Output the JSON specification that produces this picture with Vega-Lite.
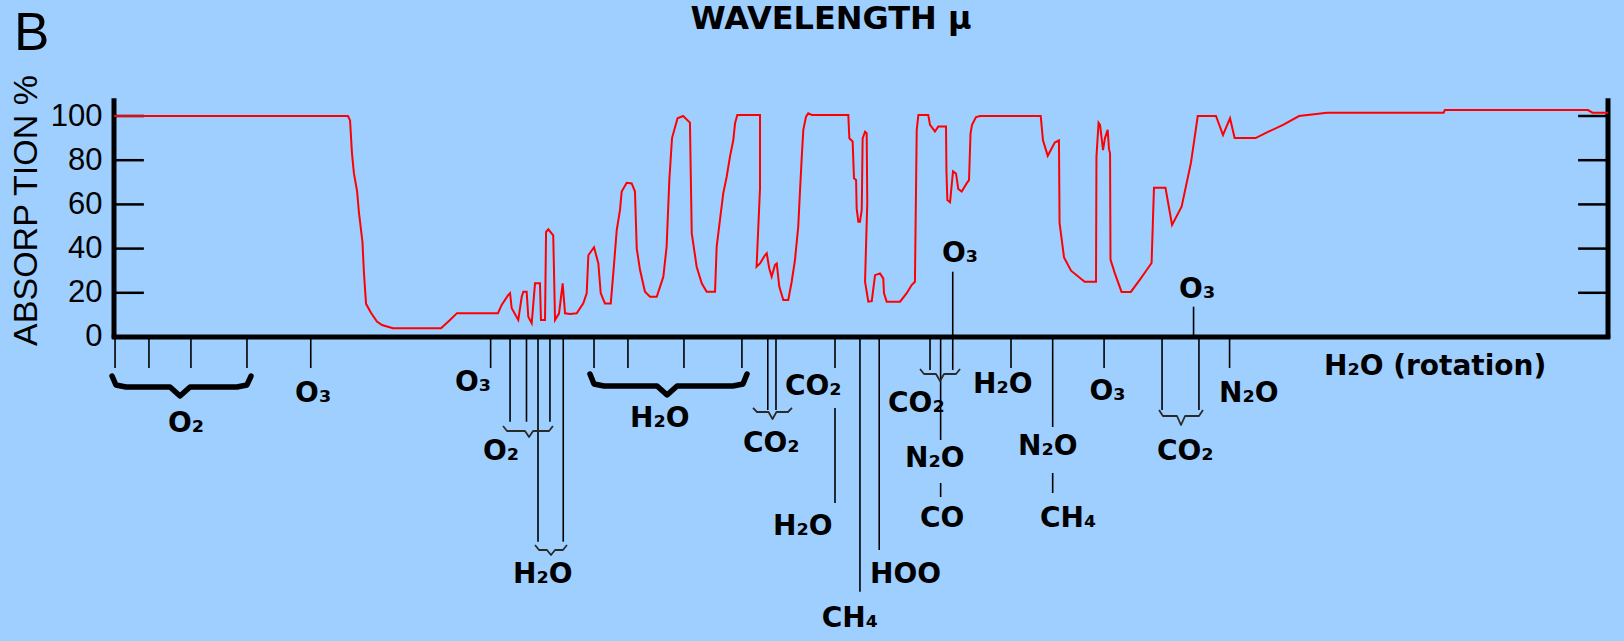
{
  "$schema": "https://vega.github.io/schema/vega-lite/v6.json",
  "width": 1494,
  "height": 641,
  "autosize": {"type": "none"},
  "padding": {"left": 114, "right": 16, "top": 0, "bottom": 0},
  "background": "#9fcfff",
  "config": {"view": {"stroke": null}},
  "datasets": {
    "spectrum": [
      {"i":1,"pos":0,"absorption":100},{"i":2,"pos":15.66,"absorption":100},{"i":3,"pos":15.8,"absorption":98},{"i":4,"pos":15.93,"absorption":83},
      {"i":5,"pos":16.06,"absorption":74},{"i":6,"pos":16.27,"absorption":66},{"i":7,"pos":16.4,"absorption":56},{"i":8,"pos":16.63,"absorption":43},
      {"i":9,"pos":16.73,"absorption":29},{"i":10,"pos":16.87,"absorption":15},{"i":11,"pos":17.2,"absorption":11},{"i":12,"pos":17.6,"absorption":7},
      {"i":13,"pos":17.94,"absorption":5.4},{"i":14,"pos":18.67,"absorption":4},{"i":15,"pos":21.89,"absorption":4},{"i":16,"pos":22.49,"absorption":7.7},
      {"i":17,"pos":22.96,"absorption":10.8},{"i":18,"pos":25.7,"absorption":10.8},{"i":19,"pos":25.95,"absorption":14.5},{"i":20,"pos":26.39,"absorption":19},
      {"i":21,"pos":26.51,"absorption":19.8},{"i":22,"pos":26.62,"absorption":13},{"i":23,"pos":27.06,"absorption":7.7},{"i":24,"pos":27.29,"absorption":18.2},
      {"i":25,"pos":27.4,"absorption":20.5},{"i":26,"pos":27.62,"absorption":20.5},{"i":27,"pos":27.73,"absorption":9.2},{"i":28,"pos":27.96,"absorption":6.2},
      {"i":29,"pos":28.18,"absorption":24.3},{"i":30,"pos":28.51,"absorption":24.3},{"i":31,"pos":28.58,"absorption":7.7},{"i":32,"pos":28.85,"absorption":7.7},
      {"i":33,"pos":28.92,"absorption":47.6},{"i":34,"pos":29.07,"absorption":48.7},{"i":35,"pos":29.4,"absorption":46},{"i":36,"pos":29.52,"absorption":7.7},
      {"i":37,"pos":29.79,"absorption":10.7},{"i":38,"pos":30.03,"absorption":24.3},{"i":39,"pos":30.19,"absorption":10.7},{"i":40,"pos":30.52,"absorption":10.4},
      {"i":41,"pos":30.97,"absorption":10.7},{"i":42,"pos":31.41,"absorption":15.2},{"i":43,"pos":31.64,"absorption":19.8},{"i":44,"pos":31.75,"absorption":37},
      {"i":45,"pos":32.13,"absorption":40.6},{"i":46,"pos":32.42,"absorption":33.3},{"i":47,"pos":32.58,"absorption":19.8},{"i":48,"pos":32.86,"absorption":15.2},
      {"i":49,"pos":33.25,"absorption":15.2},{"i":50,"pos":33.42,"absorption":28.8},{"i":51,"pos":33.65,"absorption":48.4},{"i":52,"pos":33.87,"absorption":57.5},
      {"i":53,"pos":33.98,"absorption":65.8},{"i":54,"pos":34.32,"absorption":69.8},{"i":55,"pos":34.65,"absorption":69.5},{"i":56,"pos":34.87,"absorption":65.8},
      {"i":57,"pos":34.99,"absorption":40},{"i":58,"pos":35.21,"absorption":30.3},{"i":59,"pos":35.54,"absorption":20.5},{"i":60,"pos":35.88,"absorption":18.2},
      {"i":61,"pos":36.33,"absorption":18.2},{"i":62,"pos":36.77,"absorption":27.3},{"i":63,"pos":36.99,"absorption":40.9},{"i":64,"pos":37.17,"absorption":71},
      {"i":65,"pos":37.35,"absorption":90},{"i":66,"pos":37.72,"absorption":99},{"i":67,"pos":38.09,"absorption":100},{"i":68,"pos":38.55,"absorption":97},
      {"i":69,"pos":38.67,"absorption":47},{"i":70,"pos":39.0,"absorption":31.8},{"i":71,"pos":39.34,"absorption":24.3},{"i":72,"pos":39.67,"absorption":20.5},
      {"i":73,"pos":40.23,"absorption":20.5},{"i":74,"pos":40.34,"absorption":40.9},{"i":75,"pos":40.56,"absorption":53},{"i":76,"pos":40.78,"absorption":65},
      {"i":77,"pos":41.01,"absorption":72.5},{"i":78,"pos":41.23,"absorption":81.6},{"i":79,"pos":41.45,"absorption":89},{"i":80,"pos":41.57,"absorption":96.7},
      {"i":81,"pos":41.72,"absorption":100.5},{"i":82,"pos":43.24,"absorption":100.5},{"i":83,"pos":43.24,"absorption":67.3},{"i":84,"pos":43.01,"absorption":31.8},
      {"i":85,"pos":43.24,"absorption":33.3},{"i":86,"pos":43.57,"absorption":37},{"i":87,"pos":43.69,"absorption":37.9},{"i":88,"pos":43.86,"absorption":31},
      {"i":89,"pos":44.02,"absorption":27.3},{"i":90,"pos":44.24,"absorption":32.6},{"i":91,"pos":44.36,"absorption":33.3},{"i":92,"pos":44.53,"absorption":22.8},
      {"i":93,"pos":44.8,"absorption":16.7},{"i":94,"pos":45.13,"absorption":16.7},{"i":95,"pos":45.36,"absorption":25},{"i":96,"pos":45.58,"absorption":34.8},
      {"i":97,"pos":45.8,"absorption":50},{"i":98,"pos":45.92,"absorption":66.5},{"i":99,"pos":46.03,"absorption":80.9},{"i":100,"pos":46.14,"absorption":93.7},
      {"i":101,"pos":46.32,"absorption":99.7},{"i":102,"pos":46.47,"absorption":101.2},{"i":103,"pos":46.7,"absorption":100.5},{"i":104,"pos":49.15,"absorption":100.5},
      {"i":105,"pos":49.22,"absorption":89.9},{"i":106,"pos":49.44,"absorption":88.5},{"i":107,"pos":49.53,"absorption":71.8},{"i":108,"pos":49.67,"absorption":71},
      {"i":109,"pos":49.71,"absorption":58.2},{"i":110,"pos":49.82,"absorption":52.2},{"i":111,"pos":49.93,"absorption":52.2},{"i":112,"pos":50.05,"absorption":57.5},
      {"i":113,"pos":50.11,"absorption":89.9},{"i":114,"pos":50.27,"absorption":92.9},{"i":115,"pos":50.38,"absorption":92.2},{"i":116,"pos":50.42,"absorption":60.5},
      {"i":117,"pos":50.27,"absorption":25},{"i":118,"pos":50.49,"absorption":16},{"i":119,"pos":50.72,"absorption":16.2},{"i":120,"pos":50.94,"absorption":28},
      {"i":121,"pos":51.27,"absorption":28.8},{"i":122,"pos":51.49,"absorption":26.5},{"i":123,"pos":51.54,"absorption":19.8},{"i":124,"pos":51.72,"absorption":16},
      {"i":125,"pos":52.61,"absorption":16},{"i":126,"pos":53.06,"absorption":19.8},{"i":127,"pos":53.39,"absorption":23.5},{"i":128,"pos":53.61,"absorption":25},
      {"i":129,"pos":53.73,"absorption":93.7},{"i":130,"pos":53.84,"absorption":100.5},{"i":131,"pos":54.5,"absorption":100.5},{"i":132,"pos":54.62,"absorption":96},
      {"i":133,"pos":54.95,"absorption":93},{"i":134,"pos":55.17,"absorption":95.2},{"i":135,"pos":55.69,"absorption":95.2},{"i":136,"pos":55.72,"absorption":75},
      {"i":137,"pos":55.78,"absorption":62},{"i":138,"pos":55.96,"absorption":61},{"i":139,"pos":56.16,"absorption":75},{"i":140,"pos":56.36,"absorption":74},
      {"i":141,"pos":56.51,"absorption":67},{"i":142,"pos":56.74,"absorption":65.8},{"i":143,"pos":57.07,"absorption":69.5},{"i":144,"pos":57.23,"absorption":71},
      {"i":145,"pos":57.33,"absorption":92},{"i":146,"pos":57.43,"absorption":96},{"i":147,"pos":57.7,"absorption":99.5},{"i":148,"pos":57.97,"absorption":100},
      {"i":149,"pos":62.03,"absorption":100},{"i":150,"pos":62.18,"absorption":89},{"i":151,"pos":62.5,"absorption":82},{"i":152,"pos":62.97,"absorption":88},
      {"i":153,"pos":63.25,"absorption":89},{"i":154,"pos":63.29,"absorption":51.6},{"i":155,"pos":63.59,"absorption":36},{"i":156,"pos":64.06,"absorption":30},
      {"i":157,"pos":64.97,"absorption":25},{"i":158,"pos":65.73,"absorption":25},{"i":159,"pos":65.76,"absorption":81.5},{"i":160,"pos":65.9,"absorption":97},
      {"i":161,"pos":66.0,"absorption":96},{"i":162,"pos":66.2,"absorption":84.6},{"i":163,"pos":66.33,"absorption":90},{"i":164,"pos":66.51,"absorption":93.7},
      {"i":165,"pos":66.6,"absorption":85},{"i":166,"pos":66.67,"absorption":83},{"i":167,"pos":66.7,"absorption":35},{"i":168,"pos":66.98,"absorption":29},
      {"i":169,"pos":67.44,"absorption":20.4},{"i":170,"pos":68.06,"absorption":20.4},{"i":171,"pos":68.67,"absorption":26},{"i":172,"pos":69.45,"absorption":33.5},
      {"i":173,"pos":69.61,"absorption":67.5},{"i":174,"pos":70.38,"absorption":67.5},{"i":175,"pos":70.82,"absorption":50.7},{"i":176,"pos":71.46,"absorption":59},
      {"i":177,"pos":72.09,"absorption":79},{"i":178,"pos":72.54,"absorption":100},{"i":179,"pos":73.76,"absorption":100},{"i":180,"pos":74.23,"absorption":91.4},
      {"i":181,"pos":74.7,"absorption":99},{"i":182,"pos":75.01,"absorption":90},{"i":183,"pos":76.41,"absorption":90},{"i":184,"pos":77.31,"absorption":93},
      {"i":185,"pos":78.25,"absorption":96},{"i":186,"pos":79.32,"absorption":100},{"i":187,"pos":81.19,"absorption":101.5},{"i":188,"pos":89.0,"absorption":101.5},
      {"i":189,"pos":89.08,"absorption":102.7},{"i":190,"pos":98.66,"absorption":102.7},{"i":191,"pos":98.96,"absorption":101.5},{"i":192,"pos":100,"absorption":101.5}
    ],
    "frame": [
      {"pos":0,"pos2":0,"level":-0.6,"level2":108},
      {"pos":100,"pos2":100,"level":-0.6,"level2":108},
      {"pos":-0.15,"pos2":100.15,"level":0,"level2":0}
    ],
    "yticks": [
      {"pos":0,"pos2":2,"level":20,"level2":20},{"pos":0,"pos2":2,"level":40,"level2":40},{"pos":0,"pos2":2,"level":60,"level2":60},
      {"pos":0,"pos2":2,"level":80,"level2":80},{"pos":0,"pos2":2,"level":100,"level2":100},
      {"pos":98,"pos2":100,"level":20,"level2":20},{"pos":98,"pos2":100,"level":40,"level2":40},{"pos":98,"pos2":100,"level":60,"level2":60},
      {"pos":98,"pos2":100,"level":80,"level2":80},{"pos":98,"pos2":100,"level":100,"level2":100}
    ],
    "markers": [
      {"pos":0.07,"level":0,"level2":-14.03},{"pos":2.34,"level":0,"level2":-14.03},{"pos":5.15,"level":0,"level2":-14.03},{"pos":8.9,"level":0,"level2":-14.03},
      {"pos":13.17,"level":0,"level2":-14.03},{"pos":25.21,"level":0,"level2":-14.03},
      {"pos":26.51,"level":0,"level2":-38.33},{"pos":27.61,"level":0,"level2":-38.33},{"pos":28.38,"level":0,"level2":-92.62},
      {"pos":29.18,"level":0,"level2":-38.33},{"pos":30.07,"level":0,"level2":-92.62},
      {"pos":32.13,"level":0,"level2":-14.03},{"pos":34.4,"level":0,"level2":-14.03},{"pos":38.15,"level":0,"level2":-14.03},{"pos":42.03,"level":0,"level2":-14.03},
      {"pos":43.76,"level":0,"level2":-33.03},{"pos":44.31,"level":0,"level2":-33.03},
      {"pos":48.26,"level":0,"level2":-14.03},{"pos":48.26,"level":-32.13,"level2":-75.11},
      {"pos":49.93,"level":0,"level2":-115.25},{"pos":51.22,"level":0,"level2":-96.38},
      {"pos":54.62,"level":0,"level2":-14.93},{"pos":55.33,"level":0,"level2":-46.61},{"pos":55.33,"level":-66.06,"level2":-72.4},
      {"pos":56.14,"level":29.55,"level2":-14.93},
      {"pos":60.04,"level":0,"level2":-14.03},
      {"pos":62.83,"level":0,"level2":-40.72},{"pos":62.83,"level":-61.54,"level2":-70.59},
      {"pos":66.27,"level":0,"level2":-14.03},
      {"pos":70.15,"level":0,"level2":-33.03},{"pos":72.26,"level":13.71,"level2":0},{"pos":72.62,"level":0,"level2":-33.03},
      {"pos":74.67,"level":0,"level2":-14.03}
    ],
    "bigBraces": [
      {"brace":"O2","i":1,"pos":-0.13,"level":-17.65},{"brace":"O2","i":2,"pos":0.13,"level":-21.72},{"brace":"O2","i":3,"pos":0.8,"level":-22.62},
      {"brace":"O2","i":4,"pos":3.75,"level":-22.62},{"brace":"O2","i":5,"pos":4.42,"level":-26.7},{"brace":"O2","i":6,"pos":5.09,"level":-22.62},
      {"brace":"O2","i":7,"pos":8.23,"level":-22.62},{"brace":"O2","i":8,"pos":8.9,"level":-21.72},{"brace":"O2","i":9,"pos":9.17,"level":-17.65},
      {"brace":"H2O","i":1,"pos":31.86,"level":-16.74},{"brace":"H2O","i":2,"pos":32.13,"level":-21.27},{"brace":"H2O","i":3,"pos":32.8,"level":-22.17},
      {"brace":"H2O","i":4,"pos":36.35,"level":-22.17},{"brace":"H2O","i":5,"pos":37.02,"level":-26.24},{"brace":"H2O","i":6,"pos":37.69,"level":-22.17},
      {"brace":"H2O","i":7,"pos":41.43,"level":-22.17},{"brace":"H2O","i":8,"pos":42.1,"level":-21.27},{"brace":"H2O","i":9,"pos":42.37,"level":-16.74}
    ],
    "smallBraces": [
      {"brace":"O2b","i":1,"pos":26.04,"level":-40.27},{"brace":"O2b","i":2,"pos":26.31,"level":-42.53},{"brace":"O2b","i":3,"pos":27.51,"level":-42.53},
      {"brace":"O2b","i":4,"pos":27.78,"level":-45.25},{"brace":"O2b","i":5,"pos":28.05,"level":-42.53},{"brace":"O2b","i":6,"pos":29.12,"level":-42.53},{"brace":"O2b","i":7,"pos":29.38,"level":-40.27},
      {"brace":"H2Ob","i":1,"pos":28.18,"level":-94.12},{"brace":"H2Ob","i":2,"pos":28.45,"level":-96.38},{"brace":"H2Ob","i":3,"pos":28.98,"level":-96.38},
      {"brace":"H2Ob","i":4,"pos":29.25,"level":-98.64},{"brace":"H2Ob","i":5,"pos":29.52,"level":-96.38},{"brace":"H2Ob","i":6,"pos":30.05,"level":-96.38},{"brace":"H2Ob","i":7,"pos":30.32,"level":-94.12},
      {"brace":"CO2a","i":1,"pos":42.77,"level":-32.1},{"brace":"CO2a","i":2,"pos":43.04,"level":-33.94},{"brace":"CO2a","i":3,"pos":43.81,"level":-33.94},
      {"brace":"CO2a","i":4,"pos":44.08,"level":-37.1},{"brace":"CO2a","i":5,"pos":44.34,"level":-33.94},{"brace":"CO2a","i":6,"pos":45.11,"level":-33.94},{"brace":"CO2a","i":7,"pos":45.38,"level":-32.1},
      {"brace":"CO2b","i":1,"pos":53.95,"level":-14.48},{"brace":"CO2b","i":2,"pos":54.22,"level":-16.74},{"brace":"CO2b","i":3,"pos":55.02,"level":-16.74},
      {"brace":"CO2b","i":4,"pos":55.29,"level":-19.91},{"brace":"CO2b","i":5,"pos":55.56,"level":-16.74},{"brace":"CO2b","i":6,"pos":56.36,"level":-16.74},{"brace":"CO2b","i":7,"pos":56.63,"level":-14.48},
      {"brace":"CO2c","i":1,"pos":69.95,"level":-33.03},{"brace":"CO2c","i":2,"pos":70.21,"level":-35.75},{"brace":"CO2c","i":3,"pos":71.15,"level":-35.75},
      {"brace":"CO2c","i":4,"pos":71.42,"level":-39.82},{"brace":"CO2c","i":5,"pos":71.69,"level":-35.75},{"brace":"CO2c","i":6,"pos":72.62,"level":-35.75},{"brace":"CO2c","i":7,"pos":72.89,"level":-33.03}
    ],
    "labels": [
      {"label":"O₂","pos":3.61,"level":-42.85},
      {"label":"O₃","pos":12.12,"level":-29.28},
      {"label":"O₃","pos":22.82,"level":-24.3},
      {"label":"O₂","pos":24.7,"level":-55.66},
      {"label":"H₂O","pos":26.71,"level":-111.45},
      {"label":"H₂O","pos":34.54,"level":-40.59},
      {"label":"CO₂","pos":42.1,"level":-51.9},
      {"label":"CO₂","pos":44.91,"level":-26.24},
      {"label":"H₂O","pos":44.11,"level":-89.59},
      {"label":"CH₄","pos":47.37,"level":-131.09},
      {"label":"HOO","pos":50.6,"level":-111.45},
      {"label":"CO₂","pos":51.81,"level":-33.8},
      {"label":"N₂O","pos":52.95,"level":-58.69},
      {"label":"CO","pos":53.95,"level":-85.84},
      {"label":"H₂O","pos":57.5,"level":-25.48},
      {"label":"N₂O","pos":60.51,"level":-53.39},
      {"label":"CH₄","pos":61.98,"level":-85.84},
      {"label":"O₃","pos":65.29,"level":-28.51},
      {"label":"CO₂","pos":69.81,"level":-55.66},
      {"label":"N₂O","pos":73.96,"level":-29.28},
      {"label":"H₂O (rotation)","pos":80.99,"level":-17.19},
      {"label":"O₃","pos":55.42,"level":34.07},
      {"label":"O₃","pos":71.29,"level":17.51}
    ],
    "heading": [{"label":"WAVELENGTH μ","pos":47.99,"level":139.37}],
    "panel": [{"label":"B","pos":-6.69,"level":129.86}]
  },
  "layer": [
    {
      "data": {"name": "frame"},
      "mark": {"type": "rule", "color": "black", "strokeWidth": 5},
      "encoding": {
        "x": {"field": "pos", "type": "quantitative", "scale": {"domain": [0, 100], "nice": false, "zero": false}, "axis": null},
        "x2": {"field": "pos2"},
        "y": {
          "field": "level", "type": "quantitative",
          "scale": {"domain": [-137.56, 152.49], "nice": false, "zero": false},
          "axis": {
            "values": [0, 20, 40, 60, 80, 100],
            "domain": false, "ticks": false, "grid": false,
            "labelFont": "Liberation Sans", "labelFontSize": 31, "labelColor": "black",
            "labelPadding": 12, "labelOverlap": false, "labelBaseline": "middle",
            "title": "ABSORP TION %",
            "titleFont": "Liberation Sans", "titleFontSize": 34, "titleFontWeight": "normal", "titleColor": "black",
            "titleX": -88, "titleY": 210, "titleAngle": 270, "titleAlign": "center", "titleBaseline": "middle"
          }
        },
        "y2": {"field": "level2"}
      }
    },
    {
      "data": {"name": "yticks"},
      "mark": {"type": "rule", "color": "black", "strokeWidth": 2.5},
      "encoding": {
        "x": {"field": "pos", "type": "quantitative", "axis": null},
        "x2": {"field": "pos2"},
        "y": {"field": "level", "type": "quantitative"},
        "y2": {"field": "level2"}
      }
    },
    {
      "data": {"name": "markers"},
      "mark": {"type": "rule", "color": "black", "strokeWidth": 1.6},
      "encoding": {
        "x": {"field": "pos", "type": "quantitative", "axis": null},
        "y": {"field": "level", "type": "quantitative"},
        "y2": {"field": "level2"}
      }
    },
    {
      "data": {"name": "bigBraces"},
      "mark": {"type": "line", "color": "black", "strokeWidth": 5.5, "strokeJoin": "round", "strokeCap": "round"},
      "encoding": {
        "x": {"field": "pos", "type": "quantitative", "axis": null},
        "y": {"field": "level", "type": "quantitative"},
        "detail": {"field": "brace", "type": "nominal"},
        "order": {"field": "i", "type": "quantitative"}
      }
    },
    {
      "data": {"name": "smallBraces"},
      "mark": {"type": "line", "color": "#2a2a2a", "strokeWidth": 1.8, "strokeJoin": "round"},
      "encoding": {
        "x": {"field": "pos", "type": "quantitative", "axis": null},
        "y": {"field": "level", "type": "quantitative"},
        "detail": {"field": "brace", "type": "nominal"},
        "order": {"field": "i", "type": "quantitative"}
      }
    },
    {
      "data": {"name": "spectrum"},
      "mark": {"type": "line", "color": "#ff0000", "strokeWidth": 2},
      "encoding": {
        "x": {"field": "pos", "type": "quantitative", "axis": null},
        "y": {"field": "absorption", "type": "quantitative"},
        "order": {"field": "i", "type": "quantitative"}
      }
    },
    {
      "data": {"name": "labels"},
      "mark": {"type": "text", "align": "left", "baseline": "alphabetic", "font": "DejaVu Sans", "fontWeight": "bold", "fontSize": 28, "color": "black"},
      "encoding": {
        "x": {"field": "pos", "type": "quantitative", "axis": null},
        "y": {"field": "level", "type": "quantitative"},
        "text": {"field": "label", "type": "nominal"}
      }
    },
    {
      "data": {"name": "heading"},
      "mark": {"type": "text", "align": "center", "baseline": "alphabetic", "font": "DejaVu Sans", "fontWeight": "bold", "fontSize": 32, "color": "black"},
      "encoding": {
        "x": {"field": "pos", "type": "quantitative", "axis": null},
        "y": {"field": "level", "type": "quantitative"},
        "text": {"field": "label", "type": "nominal"}
      }
    },
    {
      "data": {"name": "panel"},
      "mark": {"type": "text", "align": "left", "baseline": "alphabetic", "font": "Liberation Sans", "fontSize": 53, "color": "black"},
      "encoding": {
        "x": {"field": "pos", "type": "quantitative", "axis": null},
        "y": {"field": "level", "type": "quantitative"},
        "text": {"field": "label", "type": "nominal"}
      }
    }
  ]
}
